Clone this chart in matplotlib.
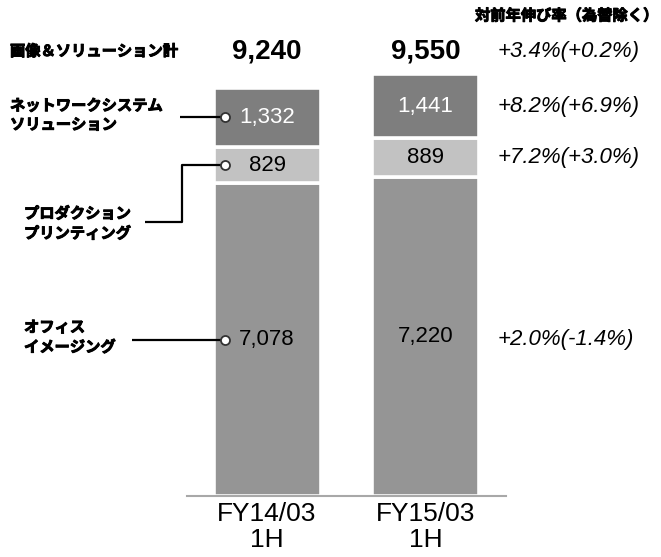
import matplotlib
matplotlib.use("Agg")
import matplotlib.pyplot as plt
import matplotlib.patheffects as pe

plt.rcParams['font.family'] = ['Liberation Sans', 'Noto Sans CJK JP']

# data
periods = ["FY14/03\n1H", "FY15/03\n1H"]
office = [7078, 7220]
production = [829, 889]
network = [1332, 1441]
totals = [9240, 9550]
seg_names = ["オフィス\nイメージング", "プロダクション\nプリンティング", "ネットワークシステム\nソリューション"]
total_name = "画像＆ソリューション計"
growth_header = "対前年伸び率（為替除く）"
growth_total = "+3.4%(+0.2%)"
growth_seg = ["+2.0%(-1.4%)", "+7.2%(+3.0%)", "+8.2%(+6.9%)"]

W, H = 661, 557
fig = plt.figure(figsize=(W / 100, H / 100), dpi=100)

# axes placed in pixels: baseline at y=496, x from 187 to 506
px_per_unit = 408 / 9240
ymax = 10000
ax = fig.add_axes([187 / W, (H - 496) / H, 319 / W, ymax * px_per_unit / H])
ax.set_ylim(0, ymax)
spacing = 158.5
ax.set_xlim((187 - 267) / spacing, (506 - 267) / spacing)


def px2x(px):
    return (px - 267) / spacing


def px2y(py):
    return (496 - py) / px_per_unit


def ftext(x, y, s, **kw):
    return fig.text(x / W, 1 - y / H, s, **kw)


colors = ["#959595", "#c2c2c2", "#7e7e7e"]
txt_colors = ["black", "black", "white"]
series = [office, production, network]
xs = [0, 1]
bw = 107 / spacing

bottoms = [0, 0]
mids = []
for vals, c in zip(series, colors):
    ax.bar(xs, vals, bw, bottom=bottoms, color=c, edgecolor="white", linewidth=2.6)
    mids.append([b + v / 2 for b, v in zip(bottoms, vals)])
    bottoms = [b + v for b, v in zip(bottoms, vals)]

for k, (vals, tc) in enumerate(zip(series, txt_colors)):
    for i in xs:
        ax.text(i, mids[k][i], f"{vals[i]:,}", ha="center", va="center",
                fontsize=16, color=tc)

# totals
for i in xs:
    ax.text(i, px2y(52), f"{totals[i]:,}", ha="center", va="center",
            fontsize=20, fontweight="bold", clip_on=False)

# axes styling
for s in ["top", "right", "left"]:
    ax.spines[s].set_visible(False)
ax.spines["bottom"].set_color("#a8a8a8")
ax.spines["bottom"].set_linewidth(1.5)
ax.set_yticks([])
ax.set_xticks(xs)
ax.set_xticklabels(periods, fontsize=19, linespacing=1.15)
ax.tick_params(axis="x", length=0, pad=4)

# connectors from first bar
cx = px2x(225)
lk = dict(color="black", lw=1.6, clip_on=False, solid_capstyle="butt")
mk = dict(marker="o", ms=6.5, mfc="white", mec="#333333", mew=1.3, clip_on=False, zorder=5)
ax.plot([px2x(132), cx], [mids[0][0]] * 2, **lk)
y_elb = px2y(222)
ax.plot([px2x(145), px2x(182), px2x(182), cx],
        [y_elb, y_elb, mids[1][0], mids[1][0]], **lk)
ax.plot([px2x(180), cx], [mids[2][0]] * 2, **lk)
for k in range(3):
    ax.plot([cx], [mids[k][0]], **mk)

# left labels (heavy Japanese)
heavy = [pe.withStroke(linewidth=0.7, foreground="black")]
jp = dict(fontsize=11, fontweight="bold", va="center", path_effects=heavy)
ftext(10, 52, total_name, **jp)
ftext(10, 116, seg_names[2], linespacing=1.45, **jp)
ftext(24, 224, seg_names[1], linespacing=1.45, **jp)
ftext(24, 338, seg_names[0], linespacing=1.45, **jp)

# growth column
ftext(658, 16, growth_header, fontsize=11, fontweight="bold", style="italic",
      ha="right", va="center", path_effects=heavy)
ftext(498, 52, growth_total, fontsize=16, style="italic", va="center")
for k in range(3):
    y_px = 496 - mids[k][1] * px_per_unit
    if k == 0:
        y_px = 339
    ftext(498, y_px, growth_seg[k], fontsize=16, style="italic", va="center")

fig.savefig("out.png", dpi=100, facecolor="white")
